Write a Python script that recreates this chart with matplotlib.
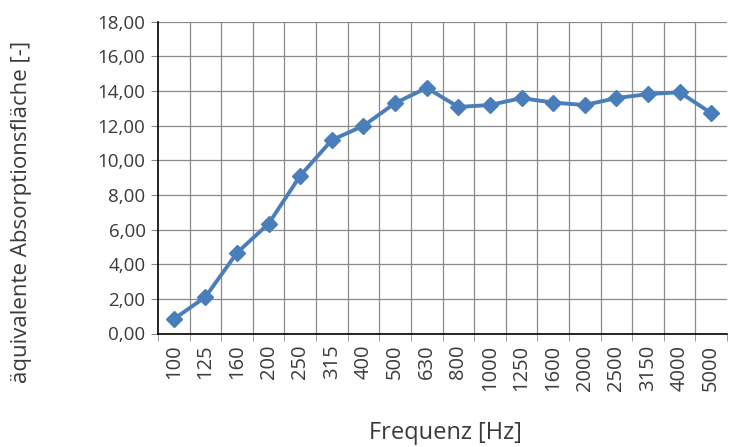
import matplotlib
matplotlib.use("Agg")
import matplotlib.pyplot as plt
import numpy as np
from matplotlib.ticker import FuncFormatter, FixedLocator

freqs = ["100", "125", "160", "200", "250", "315", "400", "500", "630", "800",
         "1000", "1250", "1600", "2000", "2500", "3150", "4000", "5000"]
values = [0.83, 2.11, 4.66, 6.34, 9.11, 11.17, 11.99, 13.30, 14.18, 13.08,
          13.19, 13.59, 13.33, 13.19, 13.59, 13.82, 13.93, 12.72]
yticks = [0, 2, 4, 6, 8, 10, 12, 14, 16, 18]

plt.rcParams['font.family'] = ['Open Sans', 'DejaVu Sans']
txt = '#3a3a3a'

fig = plt.figure(figsize=(7.31, 4.47), dpi=100)
ax = fig.add_axes([158/731, 1-333.5/447, (727-158)/731, (333.5-21.7)/447])

x = np.arange(len(freqs))
ax.plot(x, values, color='#4a7ebb', lw=2.8, marker='D', ms=8, zorder=3)

ax.set_xlim(-0.5, len(freqs)-0.5)
ax.set_ylim(0, 18)
ax.set_yticks(yticks)
ax.yaxis.set_major_formatter(FuncFormatter(lambda v, p: f"{v:.2f}".replace('.', ',')))
ax.set_xticks(x)
ax.set_xticklabels(freqs, rotation=90)
ax.xaxis.set_minor_locator(FixedLocator(np.arange(-0.5, len(freqs), 1.0)))
ax.tick_params(axis='x', which='major', length=0, pad=8, labelsize=14.5, labelcolor=txt)
ax.tick_params(axis='x', which='minor', length=5, color='#888888', direction='out')
ax.tick_params(axis='y', length=5, color='#888888', labelsize=13.5, labelcolor=txt, pad=4)

for b in np.arange(0.5, len(freqs)-1, 1.0):
    ax.axvline(b, color='#8a8a8a', lw=0.9, zorder=1)
for t in yticks[1:]:
    ax.axhline(t, color='#8a8a8a', lw=0.9, zorder=1)

for s in ['top', 'right']:
    ax.spines[s].set_visible(False)
ax.spines['left'].set_color('black')
ax.spines['bottom'].set_color('black')
ax.spines['left'].set_linewidth(1.2)
ax.spines['bottom'].set_linewidth(1.2)

fig.text(22/731, 1-212/447, "äquivalente Absorptionsfläche [-]", rotation=90,
         ha='center', va='center', fontsize=16, color=txt)
fig.text(445/731, 1-433/447, "Frequenz [Hz]", ha='center', va='center',
         fontsize=17, color=txt)

fig.savefig("out.png", dpi=100)
